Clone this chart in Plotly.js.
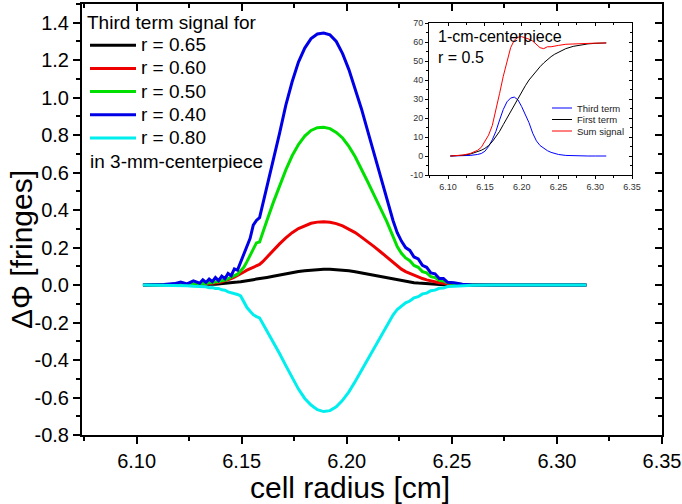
<!DOCTYPE html>
<html><head><meta charset="utf-8">
<script src="https://cdn.plot.ly/plotly-3.0.1.min.js"></script>
<style>html,body{margin:0;padding:0;background:#fff;}#chart{width:682px;height:504px;}</style>
</head><body><div id="chart"></div>
<script>
// ---- main chart data ----
const radius = [6.103,6.108,6.113,6.118,6.121,6.124,6.127,6.130,6.1315,6.133,
  6.1345,6.136,6.1375,6.139,6.1405,6.142,6.1435,6.145,6.1465,6.148,
  6.1495,6.151,6.1525,6.154,6.1555,6.157,6.1585,6.160,6.162,6.165,
  6.168,6.171,6.174,6.177,6.180,6.183,6.186,6.189,6.192,6.195,
  6.198,6.201,6.204,6.207,6.210,6.213,6.216,6.219,6.222,6.224,
  6.226,6.228,6.230,6.232,6.234,6.236,6.238,6.240,6.242,6.244,
  6.246,6.248,6.251,6.255,6.260,6.270,6.280,6.290,6.300,6.314];
const r065 = [0,0,0,0,0,0.001,0.001,0.002,0.002,0.003,
  0.003,0.004,0.005,0.006,0.007,0.008,0.010,0.012,0.014,0.016,
  0.018,0.020,0.023,0.026,0.029,0.032,0.034,0.037,0.041,0.047,
  0.054,0.060,0.066,0.072,0.077,0.081,0.084,0.085,0.085,0.083,
  0.080,0.076,0.071,0.065,0.059,0.052,0.045,0.038,0.031,0.027,
  0.023,0.019,0.016,0.013,0.011,0.009,0.007,0.005,0.004,0.003,
  0.002,0.002,0.001,0,0,0,0,0,0,0];
const r060 = [0,0,0.001,0.001,0.002,0.002,0.003,0.004,0.005,0.006,
  0.008,0.009,0.012,0.014,0.018,0.022,0.028,0.034,0.042,0.050,
  0.060,0.070,0.080,0.088,0.096,0.104,0.110,0.125,0.150,0.185,
  0.220,0.252,0.280,0.302,0.318,0.330,0.336,0.338,0.335,0.328,
  0.316,0.300,0.280,0.256,0.232,0.205,0.178,0.150,0.120,0.100,
  0.085,0.072,0.062,0.052,0.043,0.035,0.028,0.022,0.017,0.013,
  0.010,0.007,0.005,0.002,0.001,0,0,0,0,0];
const r050 = [0,0,0.001,0.002,0.004,0.003,0.007,0.006,0.010,0.009,
  0.014,0.013,0.018,0.018,0.024,0.026,0.034,0.040,0.050,0.058,
  0.075,0.095,0.125,0.160,0.190,0.225,0.230,0.285,0.345,0.440,
  0.530,0.615,0.690,0.750,0.795,0.825,0.840,0.842,0.835,0.815,
  0.785,0.740,0.685,0.620,0.550,0.480,0.410,0.340,0.260,0.205,
  0.170,0.145,0.130,0.105,0.095,0.072,0.065,0.045,0.040,0.025,
  0.022,0.012,0.008,0.003,0.001,0,0,0,0,0];
const r040 = [0.000,0.001,0.003,0.008,0.016,0.006,0.022,0.010,0.028,0.014,
  0.032,0.018,0.040,0.024,0.048,0.034,0.062,0.050,0.086,0.080,
  0.125,0.170,0.205,0.250,0.320,0.345,0.360,0.430,0.520,0.660,
  0.810,0.960,1.085,1.190,1.265,1.315,1.340,1.345,1.335,1.300,
  1.235,1.150,1.050,0.940,0.820,0.700,0.585,0.470,0.345,0.280,
  0.235,0.200,0.185,0.150,0.140,0.105,0.095,0.065,0.060,0.035,
  0.035,0.015,0.012,0.004,0.001,0,0,0,0,0];
const r080 = [0,0,-0.001,-0.002,-0.004,-0.003,-0.006,-0.006,-0.010,-0.009,
  -0.014,-0.013,-0.018,-0.018,-0.025,-0.027,-0.036,-0.040,-0.046,-0.050,
  -0.058,-0.090,-0.120,-0.140,-0.158,-0.168,-0.175,-0.205,-0.245,-0.300,
  -0.365,-0.430,-0.495,-0.555,-0.605,-0.640,-0.665,-0.675,-0.670,-0.650,
  -0.615,-0.570,-0.515,-0.455,-0.395,-0.335,-0.275,-0.215,-0.160,-0.130,
  -0.110,-0.095,-0.085,-0.068,-0.062,-0.047,-0.043,-0.030,-0.027,-0.017,
  -0.015,-0.008,-0.006,-0.002,-0.001,0,0,0,0,0];
const seriesNames = ['r = 0.65','r = 0.60','r = 0.50','r = 0.40','r = 0.80'];
const seriesColors = ['#000000','#ee0000','#00e000','#0000e6','#00eeee'];
const xTickVals = [6.10,6.15,6.20,6.25,6.30,6.35];
const xTickText = ['6.10','6.15','6.20','6.25','6.30','6.35'];
const yTickVals = [-0.8,-0.6,-0.4,-0.2,0,0.2,0.4,0.6,0.8,1.0,1.2,1.4];
const yTickText = ['-0.8','-0.6','-0.4','-0.2','0.0','0.2','0.4','0.6','0.8','1.0','1.2','1.4'];
const xTitle = 'cell radius [cm]';
const yTitle = 'ΔΦ [fringes]';

// ---- inset data ----
const insetRadius = [6.103,6.110,6.120,6.130,6.140,6.145,6.150,6.155,6.160,6.165,
  6.170,6.175,6.180,6.185,6.190,6.195,6.200,6.205,6.210,6.215,
  6.220,6.225,6.230,6.235,6.240,6.245,6.250,6.260,6.270,6.280,
  6.290,6.300,6.315];
const thirdTerm = [0,0,0.1,0.3,0.8,1.3,2.5,5,8.5,13,
  19,24.5,28.5,30.5,31,29.5,26,22,17.5,12,
  8,5.5,4,2.8,1.9,1.2,0.8,0.3,0.1,0,
  0,0,0];
const firstTerm = [0,0.1,0.4,1.0,2.2,3.0,4.0,5.5,7.5,10,
  13,16.5,20,23.5,27,30.5,34,37,40,42.5,
  45,47,49,50.8,52.3,53.6,54.7,56.5,57.7,58.5,
  59,59.3,59.5];
const sumSignal = [0,0.1,0.5,1.3,3,4.5,7.5,11,16,24,
  33,42,50,57,61,62.5,62.8,62.3,61.5,60.5,
  59,57,56.5,57.5,57.5,58,58.2,58.8,59,59.2,
  59.3,59.4,59.5];
const insetNames = ['Third term','First term','Sum signal'];
const insetColors = ['#0000ff','#000000','#ff0000'];
const insetYTickVals = [-10,0,10,20,30,40,50,60,70];
const insetYTickText = ['-10','0','10','20','30','40','50','60','70'];

// ---- layout helpers ----
const FONT = 'Liberation Sans, Arial, Helvetica, sans-serif';
const L = 82, R = 662, T = 4, B = 435;
const px2x = p => (p - L) / (R - L);
const px2y = p => (B - p) / (B - T);

const mainSeries = [r065, r060, r050, r040, r080];
const traces = mainSeries.map((vals, i) => ({
  type: 'scatter', mode: 'lines', x: radius, y: vals,
  name: '<span style="font-size:19px">' + seriesNames[i] + '</span>',
  line: {color: seriesColors[i], width: 3}, xaxis: 'x', yaxis: 'y'
}));
[thirdTerm, firstTerm, sumSignal].forEach((vals, i) => {
  traces.push({type: 'scatter', mode: 'lines', x: insetRadius, y: vals,
    name: insetNames[i], showlegend: false,
    line: {color: insetColors[i], width: 1}, xaxis: 'x2', yaxis: 'y2'});
});
// empty carriers so the mirrored (top/right, inward-tick) axes get drawn
traces.push({type: 'scatter', mode: 'lines', x: [], y: [], xaxis: 'x3', yaxis: 'y3', showlegend: false, hoverinfo: 'skip'});
traces.push({type: 'scatter', mode: 'lines', x: [], y: [], xaxis: 'x4', yaxis: 'y4', showlegend: false, hoverinfo: 'skip'});

const ax = {showgrid: false, zeroline: false, showline: true, linecolor: '#000', tickcolor: '#000'};
const mainX = Object.assign({}, ax, {range: [6.074, 6.35], tickmode: 'array', tickvals: xTickVals, linewidth: 2, tickwidth: 2,
  minor: {tickmode: 'linear', tick0: 6.1, dtick: 0.025, ticklen: 4, tickwidth: 2, tickcolor: '#000'}});
const mainY = Object.assign({}, ax, {range: [-0.8, 1.5], tickmode: 'array', tickvals: yTickVals, linewidth: 2, tickwidth: 2,
  minor: {tickmode: 'linear', tick0: 0, dtick: 0.1, ticklen: 4, tickwidth: 2, tickcolor: '#000'}});
const insX = Object.assign({}, ax, {range: [6.074, 6.35], tickmode: 'array', tickvals: xTickVals, linewidth: 1, tickwidth: 1,
  minor: {tickmode: 'linear', tick0: 6.1, dtick: 0.025, ticklen: 2, tickwidth: 1, tickcolor: '#000'}});
const insY = Object.assign({}, ax, {range: [-10, 70], tickmode: 'array', tickvals: insetYTickVals, linewidth: 1, tickwidth: 1,
  minor: {tickmode: 'linear', tick0: 0, dtick: 5, ticklen: 2, tickwidth: 1, tickcolor: '#000'}});

const annotations = [
  {text: xTitle, x: px2x(350), y: px2y(487), xref: 'paper', yref: 'paper', xanchor: 'center', yanchor: 'middle', showarrow: false, font: {size: 30, family: FONT, color: '#000'}},
  {text: yTitle, x: px2x(22), y: px2y(250), xref: 'paper', yref: 'paper', xanchor: 'center', yanchor: 'middle', textangle: -90, showarrow: false, font: {size: 30, family: FONT, color: '#000'}},
  {text: 'in 3-mm-centerpiece', x: px2x(88), y: px2y(162), xref: 'paper', yref: 'paper', xanchor: 'left', yanchor: 'middle', showarrow: false, font: {size: 19, family: FONT, color: '#000'}},
  {text: '1-cm-centerpiece', x: px2x(436), y: px2y(37), xref: 'paper', yref: 'paper', xanchor: 'left', yanchor: 'middle', showarrow: false, font: {size: 16, family: FONT, color: '#000'}},
  {text: 'r = 0.5', x: px2x(436), y: px2y(57), xref: 'paper', yref: 'paper', xanchor: 'left', yanchor: 'middle', showarrow: false, font: {size: 16, family: FONT, color: '#000'}}
];
const shapes = [];
const legRowsPx = [108, 119.5, 131];
insetNames.forEach((n, i) => {
  annotations.push({text: n, x: px2x(575), y: px2y(legRowsPx[i]), xref: 'paper', yref: 'paper', xanchor: 'left', yanchor: 'middle', showarrow: false, font: {size: 9.5, family: FONT, color: '#222'}});
  shapes.push({type: 'line', xref: 'paper', yref: 'paper', x0: px2x(552), x1: px2x(572), y0: px2y(legRowsPx[i]), y1: px2y(legRowsPx[i]), line: {color: insetColors[i], width: 1}});
});

const layout = {
  width: 682, height: 504,
  margin: {l: L, r: 682 - R, t: T, b: 504 - B, pad: 0},
  paper_bgcolor: '#fff', plot_bgcolor: '#fff',
  font: {family: FONT, color: '#000'},
  showlegend: true,
  legend: {x: px2x(85), y: px2y(4), xanchor: 'left', yanchor: 'top', bgcolor: 'rgba(0,0,0,0)', borderwidth: 0,
    font: {size: 15.5, family: FONT, color: '#000'}, tracegroupgap: 0, itemwidth: 46,
    title: {text: 'Third term signal for', font: {size: 19, family: FONT, color: '#000'}}},
  xaxis: Object.assign({}, mainX, {anchor: 'y', ticks: 'outside', ticklen: 7, ticktext: xTickText,
    tickfont: {size: 20, family: FONT}}),
  yaxis: Object.assign({}, mainY, {anchor: 'x', ticks: 'outside', ticklen: 7, ticktext: yTickText,
    tickfont: {size: 20, family: FONT}}),
  xaxis3: Object.assign({}, mainX, {overlaying: 'x', side: 'top', anchor: 'y3', ticks: 'inside', ticklen: 7, showticklabels: false,
    minor: Object.assign({}, mainX.minor, {ticks: 'inside'})}),
  yaxis3: Object.assign({}, mainY, {overlaying: 'y', side: 'right', anchor: 'x3', ticks: 'inside', ticklen: 7, showticklabels: false,
    minor: Object.assign({}, mainY.minor, {ticks: 'inside'})}),
  xaxis2: Object.assign({}, insX, {domain: [px2x(429), px2x(632)], anchor: 'y2', ticks: 'outside', ticklen: 3, ticktext: xTickText,
    tickfont: {size: 9, family: FONT, color: '#333'}}),
  yaxis2: Object.assign({}, insY, {domain: [px2y(175), px2y(23)], anchor: 'x2', ticks: 'outside', ticklen: 3, ticktext: insetYTickText,
    tickfont: {size: 9, family: FONT, color: '#333'}}),
  xaxis4: Object.assign({}, insX, {overlaying: 'x2', side: 'top', anchor: 'y4', ticks: 'inside', ticklen: 3, showticklabels: false,
    minor: Object.assign({}, insX.minor, {ticks: 'inside'})}),
  yaxis4: Object.assign({}, insY, {overlaying: 'y2', side: 'right', anchor: 'x4', ticks: 'inside', ticklen: 3, showticklabels: false,
    minor: Object.assign({}, insY.minor, {ticks: 'inside'})}),
  annotations: annotations,
  shapes: shapes
};

Plotly.newPlot('chart', traces, layout, {displayModeBar: false, staticPlot: true});
</script>
</body></html>
